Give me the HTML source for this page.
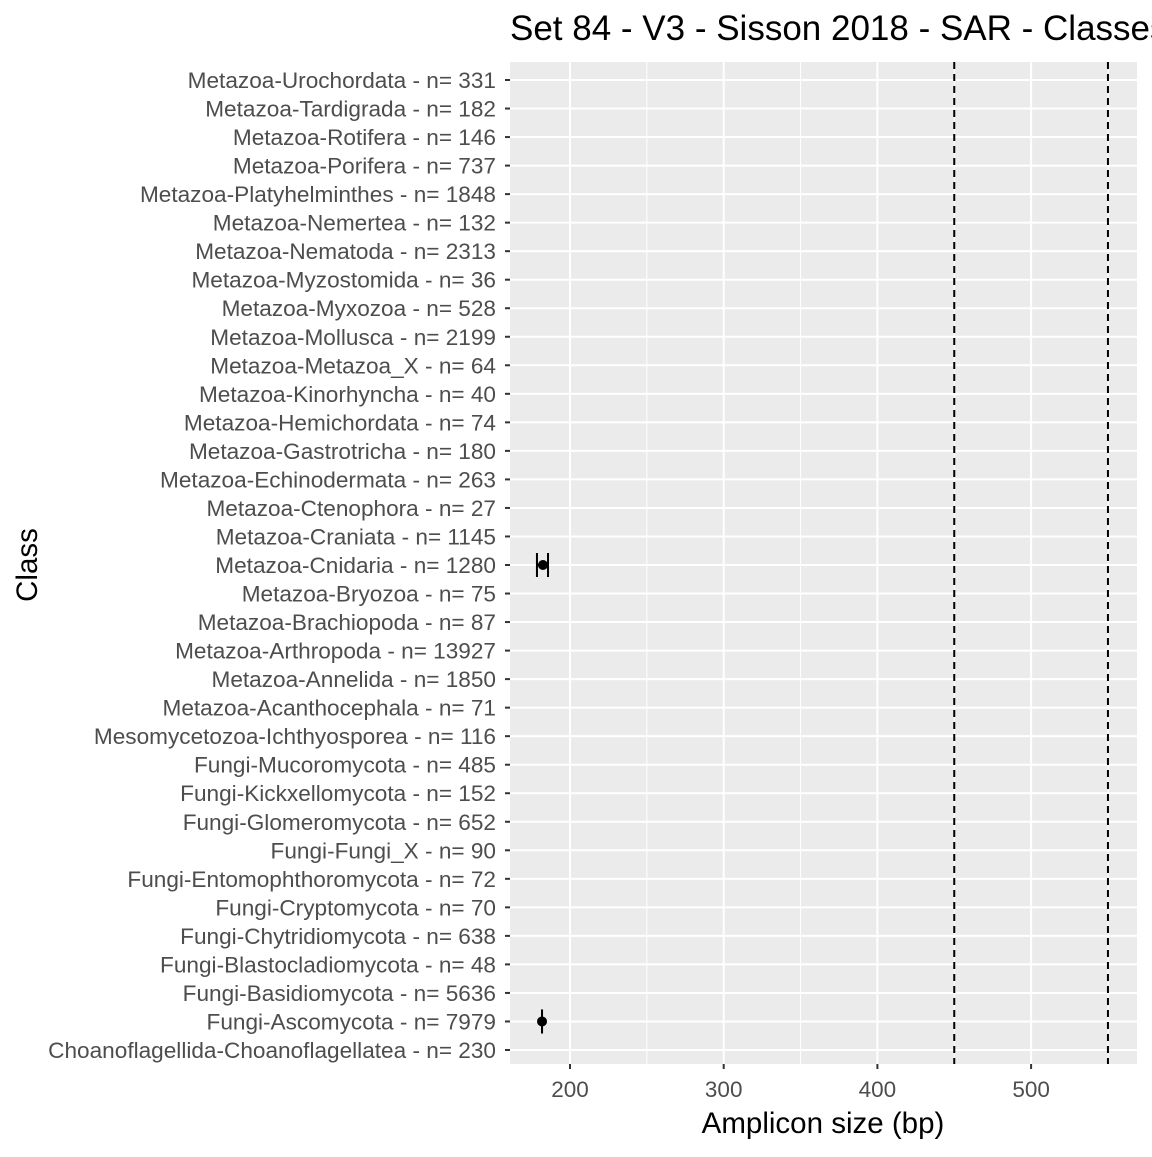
<!DOCTYPE html>
<html><head><meta charset="utf-8"><style>
body{margin:0;background:#fff;font-family:"Liberation Sans",Arial,sans-serif;overflow:hidden}
</style></head><body>
<svg id="chart" width="1152" height="1152" xmlns="http://www.w3.org/2000/svg"></svg>
<script>
const categories=["Metazoa-Urochordata - n= 331","Metazoa-Tardigrada - n= 182","Metazoa-Rotifera - n= 146","Metazoa-Porifera - n= 737","Metazoa-Platyhelminthes - n= 1848","Metazoa-Nemertea - n= 132","Metazoa-Nematoda - n= 2313","Metazoa-Myzostomida - n= 36","Metazoa-Myxozoa - n= 528","Metazoa-Mollusca - n= 2199","Metazoa-Metazoa_X - n= 64","Metazoa-Kinorhyncha - n= 40","Metazoa-Hemichordata - n= 74","Metazoa-Gastrotricha - n= 180","Metazoa-Echinodermata - n= 263","Metazoa-Ctenophora - n= 27","Metazoa-Craniata - n= 1145","Metazoa-Cnidaria - n= 1280","Metazoa-Bryozoa - n= 75","Metazoa-Brachiopoda - n= 87","Metazoa-Arthropoda - n= 13927","Metazoa-Annelida - n= 1850","Metazoa-Acanthocephala - n= 71","Mesomycetozoa-Ichthyosporea - n= 116","Fungi-Mucoromycota - n= 485","Fungi-Kickxellomycota - n= 152","Fungi-Glomeromycota - n= 652","Fungi-Fungi_X - n= 90","Fungi-Entomophthoromycota - n= 72","Fungi-Cryptomycota - n= 70","Fungi-Chytridiomycota - n= 638","Fungi-Blastocladiomycota - n= 48","Fungi-Basidiomycota - n= 5636","Fungi-Ascomycota - n= 7979","Choanoflagellida-Choanoflagellatea - n= 230"];
const pointCats=["Metazoa-Cnidaria - n= 1280","Fungi-Ascomycota - n= 7979"];
const meanVals=[182.4,181.8];
const minVals=[178.5,181.8];
const maxVals=[185.7,181.8];
const xTicks=[200,300,400,500];
const xMinor=[250,350,450,550];
const refLines=[450,550];
const svg=document.getElementById('chart');const NS="http://www.w3.org/2000/svg";
const L=510,R=1137,T=62,B=1064;
const x=v=>570+(v-200)*1.537;
const y=i=>80+i*(1050-80)/34;
function mk(t,a,p){const e=document.createElementNS(NS,t);for(const k in a)e.setAttribute(k,a[k]);(p||svg).appendChild(e);return e;}
let e=mk('rect',{x:L,y:T,width:R-L,height:B-T,fill:'#ebebeb'});


xMinor.forEach(v=>{const g=mk('line',{x1:x(v),x2:x(v),y1:T,y2:B,stroke:'#fff','stroke-width':1});

});
xTicks.forEach(v=>{const g=mk('line',{x1:x(v),x2:x(v),y1:T,y2:B,stroke:'#fff','stroke-width':2});


const t=mk('line',{x1:x(v),x2:x(v),y1:B,y2:B+5,stroke:'#333','stroke-width':2});


const l=mk('text',{x:x(v),y:B+33,'text-anchor':'middle','font-size':22.5,fill:'#4d4d4d'});l.textContent=v;

});
categories.forEach((c,i)=>{const g=mk('line',{x1:L,x2:R,y1:y(i),y2:y(i),stroke:'#fff','stroke-width':2});


const t=mk('line',{x1:L-5,x2:L,y1:y(i),y2:y(i),stroke:'#333','stroke-width':2});


const l=mk('text',{x:L-14,y:y(i)+8,'text-anchor':'end','font-size':22.6,fill:'#4d4d4d'});l.textContent=c;

});
refLines.forEach(v=>{const g=mk('line',{x1:x(v),x2:x(v),y1:T,y2:B,stroke:'#000','stroke-width':2,'stroke-dasharray':'7,5'});

});
pointCats.forEach((c,k)=>{const i=categories.indexOf(c);const cy=y(i);
const g=mk('g',{});


mk('line',{x1:x(minVals[k]),x2:x(maxVals[k]),y1:cy,y2:cy,stroke:'#000','stroke-width':2},g);
mk('line',{x1:x(minVals[k]),x2:x(minVals[k]),y1:cy-12,y2:cy+12,stroke:'#000','stroke-width':2},g);
mk('line',{x1:x(maxVals[k]),x2:x(maxVals[k]),y1:cy-12,y2:cy+12,stroke:'#000','stroke-width':2},g);
mk('circle',{cx:x(meanVals[k]),cy:cy,r:5,fill:'#000'},g);});
let t=mk('text',{x:510,y:40,'font-size':35,fill:'#000'});t.textContent='Set 84 - V3 - Sisson 2018 - SAR - Classes';


t=mk('text',{x:823,y:1133,'text-anchor':'middle','font-size':29.5,fill:'#000'});t.textContent='Amplicon size (bp)';


t=mk('text',{x:37,y:565,'text-anchor':'middle','font-size':29.5,fill:'#000',transform:'rotate(-90 37 565)'});t.textContent='Class';


</script>
</body></html>
